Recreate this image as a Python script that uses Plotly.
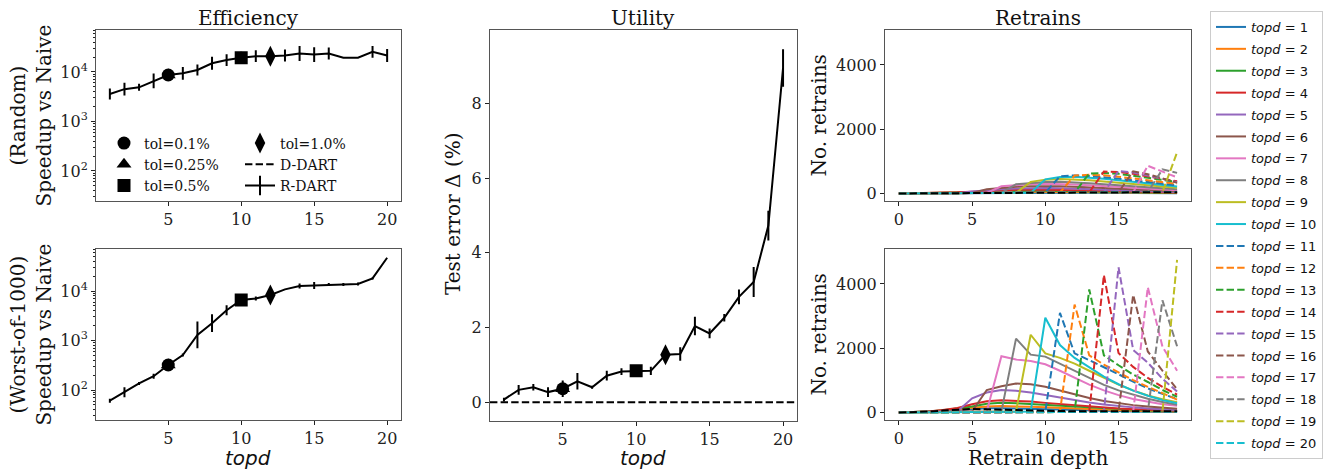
import math
import plotly.graph_objects as go

# the page has an 8px body margin, so the figure is drawn 8px in and sized to fit
W, H = 1335, 474
OFF = 8
FW, FH = W - OFF, H - OFF

# ---- data -----------------------------------------------------------------
topd = list(range(1, 21))
depth = list(range(0, 20))

# Efficiency, speedup vs naive (R-DART), random deletions / worst-of-1000
speedup_random = [3580, 4500, 4900, 6600, 8700, 9400, 11000, 15000, 17400, 19400,
                  20900, 20900, 21500, 23600, 22500, 23600, 19400, 19400, 25500, 21500]
speedup_random_err = [0.11, 0.13, 0.07, 0.15, 0.12, 0.13, 0.11, 0.13, 0.12, 0.12,
                      0.12, 0.12, 0.12, 0.15, 0.15, 0.12, 0.0, 0.0, 0.12, 0.13]  # dex
speedup_worst = [61, 90, 136, 190, 320, 510, 1300, 2240, 4100, 6600,
                 7100, 8300, 10800, 12600, 12900, 13600, 13600, 13900, 18000, 47000]
speedup_worst_err = [0.04, 0.10, 0.03, 0.05, 0.05, 0.03, 0.27, 0.18, 0.10, 0.05,
                     0.04, 0.05, 0.0, 0.05, 0.07, 0.03, 0.03, 0.03, 0.02, 0.0]  # dex
ddart_random = 2000
ddart_worst = 35

# Utility, test error increase (%)
test_err = [0.07, 0.33, 0.40, 0.27, 0.36, 0.56, 0.40, 0.71, 0.82, 0.84,
            0.84, 1.27, 1.29, 2.04, 1.84, 2.26, 2.82, 3.22, 4.73, 8.95]
test_err_sd = [0.05, 0.13, 0.09, 0.13, 0.22, 0.22, 0.04, 0.13, 0.09, 0.09,
               0.11, 0.18, 0.18, 0.25, 0.13, 0.10, 0.20, 0.40, 0.40, 0.50]
ddart_test_err = 0

# tolerance settings -> chosen topd
tol_labels = ["tol=0.1%", "tol=0.25%", "tol=0.5%", "tol=1.0%"]
tol_topd = [5, 5, 10, 12]
tol_symbols = ["circle", "triangle-up", "square", "diamond-tall"]

# Retrains per depth, one row per topd (random deletions)
rand_retrains = [
    [0, 3, 6, 10, 15, 20, 25, 28, 30, 30, 28, 26, 24, 22, 20, 18, 16, 14, 12, 10],
    [0, 3, 8, 14, 22, 32, 42, 50, 55, 55, 52, 48, 44, 40, 36, 32, 28, 24, 20, 17],
    [0, 4, 10, 18, 30, 45, 60, 75, 85, 88, 86, 80, 72, 64, 56, 48, 41, 35, 30, 25],
    [0, 4, 10, 20, 35, 55, 80, 100, 115, 122, 120, 112, 102, 90, 78, 67, 57, 48, 40, 33],
    [0, 2, 4, 6, 9, 60, 100, 130, 155, 168, 170, 162, 148, 132, 115, 98, 83, 70, 58, 48],
    [0, 2, 4, 6, 9, 12, 130, 175, 210, 228, 232, 222, 205, 184, 162, 140, 119, 100, 83, 69],
    [0, 2, 4, 6, 9, 12, 15, 225, 265, 292, 303, 298, 280, 255, 226, 196, 168, 142, 119, 99],
    [0, 2, 4, 6, 9, 12, 15, 18, 290, 335, 360, 362, 345, 318, 285, 250, 215, 183, 154, 128],
    [0, 2, 4, 6, 9, 12, 15, 18, 21, 360, 430, 450, 440, 412, 375, 333, 290, 248, 210, 176],
    [0, 2, 4, 6, 9, 12, 15, 18, 21, 24, 440, 515, 520, 495, 455, 408, 356, 305, 258, 216],
    [0, 2, 4, 6, 9, 12, 15, 18, 21, 24, 27, 535, 560, 545, 510, 462, 408, 352, 300, 252],
    [0, 2, 4, 6, 9, 12, 15, 18, 21, 24, 27, 30, 557, 580, 565, 525, 470, 410, 350, 295],
    [0, 2, 4, 6, 9, 12, 15, 18, 21, 24, 27, 30, 32, 620, 640, 610, 555, 490, 420, 355],
    [0, 2, 4, 6, 9, 12, 15, 18, 21, 24, 27, 30, 32, 34, 680, 670, 610, 535, 455, 380],
    [0, 2, 4, 6, 9, 12, 15, 18, 21, 24, 27, 30, 32, 34, 36, 700, 650, 560, 450, 350],
    [0, 2, 4, 6, 9, 12, 15, 18, 21, 24, 27, 30, 32, 34, 36, 38, 690, 600, 470, 330],
    [0, 2, 4, 6, 9, 12, 15, 18, 21, 24, 27, 30, 32, 34, 36, 38, 40, 860, 680, 500],
    [0, 2, 4, 6, 9, 12, 15, 18, 21, 24, 27, 30, 32, 34, 36, 38, 40, 42, 750, 640],
    [0, 2, 4, 6, 9, 12, 15, 18, 21, 24, 27, 30, 32, 34, 36, 38, 40, 42, 44, 1280],
    [0, 2, 4, 6, 9, 12, 15, 18, 21, 24, 27, 30, 32, 34, 36, 38, 40, 42, 44, 46],
]
rand_retrains_ddart = [0, 3, 6, 10, 15, 20, 24, 27, 30, 32, 33, 34, 34, 35, 35, 35, 35, 35, 35, 35]

# Retrains per depth, one row per topd (worst-of-1000 deletions)
worst_retrains = [
    [0, 10, 25, 50, 80, 110, 130, 135, 130, 120, 105, 90, 75, 62, 50, 40, 32, 25, 20, 15],
    [0, 10, 30, 60, 100, 150, 190, 200, 195, 180, 160, 140, 118, 98, 80, 65, 52, 42, 34, 28],
    [0, 12, 35, 70, 120, 190, 270, 300, 290, 265, 235, 205, 175, 145, 120, 98, 80, 65, 52, 42],
    [0, 12, 35, 75, 140, 260, 350, 380, 370, 340, 300, 260, 220, 185, 150, 122, 100, 80, 64, 52],
    [0, 5, 15, 30, 40, 440, 620, 700, 680, 620, 540, 460, 380, 310, 250, 200, 160, 128, 100, 80],
    [0, 5, 15, 30, 40, 40, 700, 820, 900, 880, 800, 680, 560, 450, 360, 290, 230, 185, 150, 120],
    [0, 3, 8, 15, 25, 30, 30, 1750, 1650, 1600, 1500, 1300, 1080, 870, 690, 540, 420, 330, 260, 210],
    [0, 3, 8, 15, 25, 30, 30, 30, 2300, 1800, 1740, 1520, 1280, 1060, 860, 690, 550, 430, 330, 240],
    [0, 3, 8, 15, 25, 30, 30, 30, 30, 2420, 1840, 1700, 1520, 1300, 1080, 870, 690, 530, 410, 320],
    [0, 3, 8, 15, 25, 30, 30, 30, 30, 30, 2950, 2100, 1700, 1400, 1120, 880, 680, 520, 390, 290],
    [0, 2, 5, 10, 15, 20, 20, 20, 20, 20, 20, 3100, 1840, 1630, 1420, 1190, 960, 750, 580, 420],
    [0, 2, 5, 10, 15, 20, 20, 20, 20, 20, 20, 20, 3360, 1780, 1490, 1240, 1010, 800, 600, 400],
    [0, 2, 5, 10, 15, 20, 20, 20, 20, 20, 20, 20, 20, 3830, 1780, 1470, 1180, 950, 700, 490],
    [0, 2, 5, 10, 15, 20, 20, 20, 20, 20, 20, 20, 20, 20, 4280, 1850, 1420, 1080, 800, 560],
    [0, 2, 5, 10, 15, 20, 20, 20, 20, 20, 20, 20, 20, 20, 20, 4520, 1950, 1550, 1050, 650],
    [0, 2, 5, 10, 15, 20, 20, 20, 20, 20, 20, 20, 20, 20, 20, 20, 3660, 1900, 1300, 720],
    [0, 2, 5, 10, 15, 20, 20, 20, 20, 20, 20, 20, 20, 20, 20, 20, 20, 3900, 2050, 1300],
    [0, 2, 5, 10, 15, 20, 20, 20, 20, 20, 20, 20, 20, 20, 20, 20, 20, 20, 3490, 2060],
    [0, 2, 5, 10, 15, 20, 20, 20, 20, 20, 20, 20, 20, 20, 20, 20, 20, 20, 20, 4750],
    [0, 2, 5, 10, 15, 20, 20, 20, 20, 20, 20, 20, 20, 20, 20, 20, 20, 20, 20, 20],
]
worst_retrains_ddart = [0, 10, 30, 60, 90, 110, 100, 85, 70, 60, 50, 45, 40, 40, 40, 40, 40, 40, 40, 40]

colors = ["#1f77b4", "#ff7f0e", "#2ca02c", "#d62728", "#9467bd",
          "#8c564b", "#e377c2", "#7f7f7f", "#bcbd22", "#17becf"]

# ---- helpers ---------------------------------------------------------------
SERIF = "DejaVu Serif"
SANS = "DejaVu Sans"
DASH = "7.4px,3.2px"


def px(x):
    # screen pixel -> paper fraction
    return (x - OFF) / FW


def py(y):
    return 1 - (y - OFF) / FH


def log_err(vals, dex):
    up = [v * (10 ** e - 1) for v, e in zip(vals, dex)]
    lo = [v * (1 - 10 ** -e) for v, e in zip(vals, dex)]
    return dict(type="data", symmetric=False, array=up, arrayminus=lo,
                thickness=2, width=0, color="black")


fig = go.Figure()

# ---- efficiency + utility panels ------------------------------------------
panels = [
    ("x", "y", speedup_random, log_err(speedup_random, speedup_random_err), ddart_random, True),
    ("x2", "y2", speedup_worst, log_err(speedup_worst, speedup_worst_err), ddart_worst, True),
    ("x3", "y3", test_err, dict(type="data", array=test_err_sd, thickness=2, width=0, color="black"),
     ddart_test_err, False),
]
for i, (xa, ya, vals, err, ddart, is_log) in enumerate(panels):
    fig.add_trace(go.Scatter(x=topd, y=vals, mode="lines", xaxis=xa, yaxis=ya,
                             line=dict(color="black", width=2), error_y=err,
                             showlegend=False))
    # triangle first so it peeks out under the circle
    for j in [1, 0, 2, 3]:
        t = tol_topd[j]
        fig.add_trace(go.Scatter(x=[t], y=[vals[topd.index(t)]], mode="markers",
                                 xaxis=xa, yaxis=ya,
                                 marker=dict(symbol=tol_symbols[j], color="black",
                                             size=13 if j != 3 else 15),
                                 name=tol_labels[j], showlegend=(i == 0),
                                 legend="legend2" if j < 3 else "legend3",
                                 legendrank=j + 1))
    yval = math.log10(ddart) if is_log else ddart
    fig.add_shape(type="line", xref=xa + " domain", yref=ya, x0=0, x1=1, y0=yval, y1=yval,
                  line=dict(color="black", width=2, dash=DASH))

# legend-only entries
fig.add_trace(go.Scatter(x=[None], y=[None], mode="lines", name="D-DART",
                         line=dict(color="black", width=2, dash=DASH),
                         legend="legend3", legendrank=5))
fig.add_trace(go.Scatter(x=[None], y=[None], mode="lines+markers", name="R-DART",
                         line=dict(color="black", width=2),
                         marker=dict(symbol="line-ns-open", size=14, color="black",
                                     line=dict(width=2, color="black")),
                         legend="legend3", legendrank=6))

# ---- retrain panels --------------------------------------------------------
for k in range(20):
    col = colors[k % 10]
    dash = "solid" if k < 10 else DASH
    fig.add_trace(go.Scatter(x=depth, y=rand_retrains[k], mode="lines", xaxis="x4", yaxis="y4",
                             line=dict(color=col, width=2, dash=dash),
                             name="<i>topd</i> = %d" % topd[k], legendgroup="g%d" % k,
                             showlegend=True, legend="legend"))
    fig.add_trace(go.Scatter(x=depth, y=worst_retrains[k], mode="lines", xaxis="x5", yaxis="y5",
                             line=dict(color=col, width=2, dash=dash),
                             legendgroup="g%d" % k, showlegend=False))
fig.add_trace(go.Scatter(x=depth, y=rand_retrains_ddart, mode="lines", xaxis="x4", yaxis="y4",
                         line=dict(color="black", width=2, dash=DASH), showlegend=False))
fig.add_trace(go.Scatter(x=depth, y=worst_retrains_ddart, mode="lines", xaxis="x5", yaxis="y5",
                         line=dict(color="black", width=2, dash=DASH), showlegend=False))

# ---- axes ------------------------------------------------------------------
tickfont = dict(family=SERIF, size=16, color="#222")
base = dict(showline=True, mirror=True, linecolor="#555", linewidth=1, ticks="outside",
            ticklen=4, tickcolor="#222", showgrid=False, zeroline=False, tickfont=tickfont)

minor_log = [m * 10 ** n for n in range(1, 5) for m in range(2, 10)]
log_y = dict(base, type="log", range=[1.39, 4.85], tickvals=[100, 1000, 10000],
             ticktext=["10<sup>2</sup>", "10<sup>3</sup>", "10<sup>4</sup>"],
             minor=dict(ticks="outside", ticklen=2, tickcolor="#222", tickvals=minor_log))

boxes = {
    "": (96, 401, 30, 202),
    "2": (96, 401, 250, 422),
    "3": (490, 797, 30, 423),
    "4": (885, 1191, 30, 202),
    "5": (885, 1191, 250, 422),
}
layout = {}
for key, (x0, x1, y0, y1) in boxes.items():
    xd = [px(x0), px(x1)]
    yd = [py(y1), py(y0)]
    if key in ("", "2", "3"):
        xax = dict(base, domain=xd, range=[0.05, 20.95], tickvals=[5, 10, 15, 20],
                   anchor="y" + key)
    else:
        xax = dict(base, domain=xd, range=[-0.95, 19.95], tickvals=[0, 5, 10, 15],
                   anchor="y" + key)
    if key in ("", "2"):
        yax = dict(log_y, domain=yd, anchor="x" + key)
    elif key == "3":
        yax = dict(base, domain=yd, range=[-0.51, 9.97], tickvals=[0, 2, 4, 6, 8],
                   anchor="x3")
    else:
        yax = dict(base, domain=yd, range=[-240, 5090], tickvals=[0, 2000, 4000],
                   anchor="x" + key)
    layout["xaxis" + key] = xax
    layout["yaxis" + key] = yax

fig.update_layout(**layout)

# ---- text ------------------------------------------------------------------
ann = []


def text(x, y, s, size=20, family=SERIF, angle=0):
    ann.append(dict(x=px(x), y=py(y), xref="paper", yref="paper", text=s, showarrow=False,
                    textangle=angle, xanchor="center", yanchor="middle",
                    font=dict(family=family, size=size, color="#111")))


text(248, 18, "Efficiency", size=20)
text(643, 18, "Utility", size=20)
text(1038, 18, "Retrains", size=20)
text(31, 116, "(Random)<br>Speedup vs Naive", angle=-90)
text(31, 336, "(Worst-of-1000)<br>Speedup vs Naive", angle=-90)
text(453, 214, "Test error Δ (%)", angle=-90)
text(819, 116, "No. retrains", angle=-90)
text(819, 336, "No. retrains", angle=-90)
text(248, 460, "<i>topd</i>", family=SANS)
text(643, 460, "<i>topd</i>", family=SANS)
text(1038, 460, "Retrain depth")

fig.update_layout(
    width=FW, height=FH, autosize=False,
    margin=dict(l=0, r=0, t=0, b=0),
    paper_bgcolor="white", plot_bgcolor="white",
    annotations=ann,
    legend=dict(x=px(1210), y=py(11), xanchor="left", yanchor="top",
                bgcolor="white", bordercolor="#cccccc", borderwidth=1,
                font=dict(family=SANS, size=13, color="#111"),
                traceorder="grouped", tracegroupgap=2, itemwidth=30),
    legend2=dict(x=px(104), y=py(128), xanchor="left", yanchor="top",
                 bgcolor="rgba(0,0,0,0)", borderwidth=0,
                 font=dict(family=SERIF, size=14, color="#111")),
    legend3=dict(x=px(240), y=py(128), xanchor="left", yanchor="top",
                 bgcolor="rgba(0,0,0,0)", borderwidth=0,
                 font=dict(family=SERIF, size=14, color="#111")),
)

fig.write_html("out.html")
